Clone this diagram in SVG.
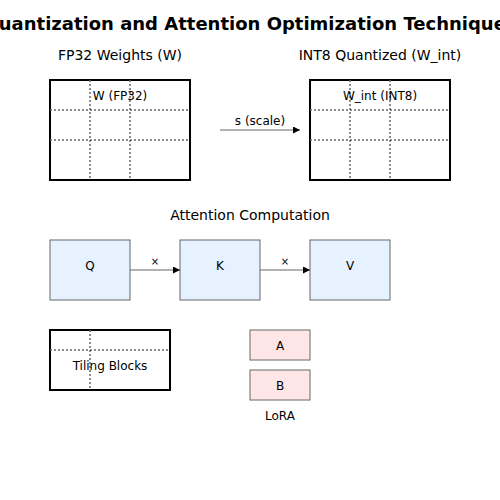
<svg xmlns="http://www.w3.org/2000/svg" width="500" height="500" viewBox="0 0 500 500">
<defs>
<style>
text{font-family:"DejaVu Sans",sans-serif;fill:#000;text-anchor:middle}
.title{font-size:18px;font-weight:bold}
.h{font-size:14px}
.l{font-size:12px}
.s{font-size:10px}
.mat{fill:#fff;stroke:#000;stroke-width:2}
.grid{stroke:#666;stroke-width:1.5;stroke-dasharray:2,2;fill:none}
.blue{fill:#e6f2ff;stroke:#666;stroke-width:1}
.pink{fill:#ffe6e6;stroke:#666;stroke-width:1}
.conn{stroke:#666;stroke-width:1;fill:none;marker-end:url(#ah)}
</style>
<marker id="ah" viewBox="0 0 10 10" refX="10" refY="5" markerWidth="10" markerHeight="7" markerUnits="userSpaceOnUse" orient="auto"><path d="M0,0 L10,5 L0,10 z" fill="#000"/></marker>
</defs>
<rect width="500" height="500" fill="#fff"/>
<text class="title" x="250" y="30">Quantization and Attention Optimization Techniques</text>
<text class="h" x="120" y="60">FP32 Weights (W)</text>
<text class="h" x="380" y="60">INT8 Quantized (W_int)</text>
<g id="w_fp32">
<rect class="mat" x="50" y="80" width="140" height="100"/>
<path class="grid" d="M90,80V180M130,80V180M50,110H190M50,140H190"/>
<text class="l" x="120" y="100">W (FP32)</text>
</g>
<g id="w_int8">
<rect class="mat" x="310" y="80" width="140" height="100"/>
<path class="grid" d="M350,80V180M390,80V180M310,110H450M310,140H450"/>
<text class="l" x="380" y="100">W_int (INT8)</text>
</g>
<text class="h" x="250" y="220">Attention Computation</text>
<g id="q"><rect class="blue" x="50" y="240" width="80" height="60"/><text class="l" x="90" y="270">Q</text></g>
<g id="k"><rect class="blue" x="180" y="240" width="80" height="60"/><text class="l" x="220" y="270">K</text></g>
<g id="v"><rect class="blue" x="310" y="240" width="80" height="60"/><text class="l" x="350" y="270">V</text></g>
<g id="tiling">
<rect class="mat" x="50" y="330" width="120" height="60"/>
<path class="grid" d="M90,330V390M50,350H170"/>
<text class="l" x="110" y="370">Tiling Blocks</text>
</g>
<g id="lora_a"><rect class="pink" x="250" y="330" width="60" height="30"/><text class="l" x="280" y="350">A</text></g>
<g id="lora_b"><rect class="pink" x="250" y="370" width="60" height="30"/><text class="l" x="280" y="390">B</text></g>
<text class="l" x="280" y="420">LoRA</text>
<g id="connectors">
<line class="conn" x1="220" y1="130" x2="300" y2="130"/>
<text class="l" x="260" y="125">s (scale)</text>
<line class="conn" x1="130" y1="270" x2="180" y2="270"/>
<text class="s" x="155" y="265">×</text>
<line class="conn" x1="260" y1="270" x2="310" y2="270"/>
<text class="s" x="285" y="265">×</text>
</g>
</svg>
